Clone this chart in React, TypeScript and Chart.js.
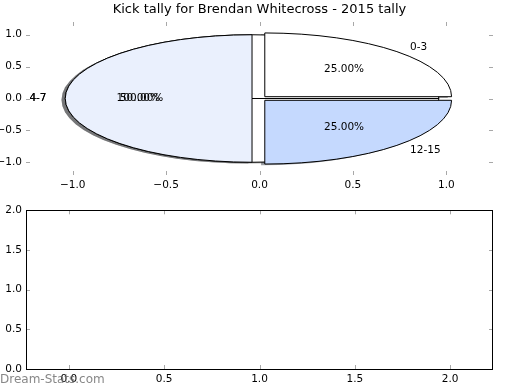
import React, { useEffect, useRef } from "react";
import { Chart, registerables } from "chart.js";

Chart.register(...registerables);

const TITLE = "Kick tally for Brendan Whitecross - 2015 tally";

// underlying single-slice pie (drawn first)
const BASE_LABELS = ["4-7"];
const BASE_VALUES = [1];
const BASE_COLORS = ["#ffffff"];

// main pie
const SLICE_LABELS = ["0-3", "4-7", "12-15"];
const SLICE_VALUES = [1, 2, 1];
const SLICE_COLORS = ["#ffffff", "#eaf0fd", "#c5d9fe"];
const EXPLODE = 0.04;

const TOP_X_TICKS = [-1, -0.5, 0, 0.5, 1];
const TOP_Y_TICKS = [-1, -0.5, 0, 0.5, 1];
const BOTTOM_X_TICKS = [0, 0.5, 1, 1.5, 2];
const BOTTOM_Y_TICKS = [0, 0.5, 1, 1.5, 2];

const WATERMARK = "Dream-Stats.com";

const FONT = "DejaVu Sans";
const TICK_SIZE = 10.5;

const fmt = (v: number) => (v < 0 ? "\u2212" : "") + Math.abs(v).toFixed(1);

function hexToRgb(h: string) {
  const n = parseInt(h.slice(1), 16);
  return [(n >> 16) & 255, (n >> 8) & 255, n & 255];
}

const piePlugin = {
  id: "piePlugin",
  afterDatasetsDraw(chart: any) {
    const { ctx } = chart;
    const xs = chart.scales.x;
    const ys = chart.scales.y;
    const px = (v: number) => xs.getPixelForValue(v);
    const py = (v: number) => ys.getPixelForValue(v);
    const rx = px(1) - px(0);
    const ry = py(0) - py(1);
    const pies = [
      { labels: BASE_LABELS, values: BASE_VALUES, colors: BASE_COLORS },
      { labels: SLICE_LABELS, values: SLICE_VALUES, colors: SLICE_COLORS },
    ];
    const wedges: any[] = [];
    pies.forEach((p) => {
      const total = p.values.reduce((a, b) => a + b, 0);
      let acc = 0;
      p.values.forEach((v, i) => {
        const t1 = (acc / total) * 2 * Math.PI;
        acc += v;
        const t2 = (acc / total) * 2 * Math.PI;
        const mid = (t1 + t2) / 2;
        wedges.push({
          t1,
          t2,
          mid,
          cx: EXPLODE * Math.cos(mid),
          cy: EXPLODE * Math.sin(mid),
          color: p.colors[i],
          label: p.labels[i],
          pct: ((v / total) * 100).toFixed(2) + "%",
        });
      });
    });
    const path = (w: any, dx: number, dy: number) => {
      const cx = px(w.cx + dx);
      const cy = py(w.cy + dy);
      ctx.beginPath();
      ctx.moveTo(cx, cy);
      ctx.ellipse(cx, cy, rx, ry, 0, -w.t1, -w.t2, true);
      ctx.closePath();
    };
    ctx.save();
    // shadows
    wedges.forEach((w) => {
      const [r, g, b] = hexToRgb(w.color);
      path(w, -0.02, -0.02);
      ctx.fillStyle = `rgba(${Math.round(r * 0.3)},${Math.round(g * 0.3)},${Math.round(b * 0.3)},0.5)`;
      ctx.fill();
    });
    // wedges
    wedges.forEach((w) => {
      path(w, 0, 0);
      ctx.fillStyle = w.color;
      ctx.fill();
      ctx.strokeStyle = "#000";
      ctx.lineWidth = 1;
      ctx.stroke();
    });
    // texts
    ctx.fillStyle = "#000";
    ctx.font = `${TICK_SIZE}px "${FONT}"`;
    ctx.textBaseline = "middle";
    wedges.forEach((w) => {
      const lx = w.cx + 1.1 * Math.cos(w.mid);
      const ly = w.cy + 1.1 * Math.sin(w.mid);
      ctx.textAlign = lx > 0 ? "left" : "right";
      ctx.fillText(w.label, px(lx), py(ly));
      const tx = w.cx + 0.6 * Math.cos(w.mid);
      const ty = w.cy + 0.6 * Math.sin(w.mid);
      ctx.textAlign = "center";
      ctx.fillText(w.pct, px(tx), py(ty));
    });
    ctx.restore();
  },
};

function makeTickPlugin(xt: number[], yt: number[], frame: boolean) {
  return {
    id: "tickPlugin",
    afterDraw(chart: any) {
      const { ctx, chartArea: a } = chart;
      const xs = chart.scales.x;
      const ys = chart.scales.y;
      ctx.save();
      ctx.strokeStyle = "#a8a8a8";
      ctx.lineWidth = 1;
      const L = 4;
      xt.forEach((v) => {
        const X = Math.round(xs.getPixelForValue(v)) + 0.5;
        ctx.beginPath();
        ctx.moveTo(X, a.top);
        ctx.lineTo(X, a.top + L);
        ctx.moveTo(X, a.bottom);
        ctx.lineTo(X, a.bottom - L);
        ctx.stroke();
      });
      yt.forEach((v) => {
        const Y = Math.round(ys.getPixelForValue(v)) + 0.5;
        ctx.beginPath();
        ctx.moveTo(a.left, Y);
        ctx.lineTo(a.left + L, Y);
        ctx.moveTo(a.right, Y);
        ctx.lineTo(a.right - L, Y);
        ctx.stroke();
      });
      if (frame) {
        ctx.strokeStyle = "#000";
        ctx.strokeRect(
          Math.round(a.left) + 0.5,
          Math.round(a.top) + 0.5,
          Math.round(a.right - a.left) - 1,
          Math.round(a.bottom - a.top)
        );
      }
      ctx.restore();
    },
  };
}

const titlePlugin = {
  id: "titlePlugin",
  afterDraw(chart: any) {
    const { ctx, chartArea: a } = chart;
    ctx.save();
    ctx.fillStyle = "#000";
    ctx.font = `13px "${FONT}"`;
    ctx.textAlign = "center";
    ctx.textBaseline = "middle";
    ctx.fillText(TITLE, (a.left + a.right) / 2, 10);
    ctx.restore();
  },
};

const watermarkPlugin = {
  id: "watermarkPlugin",
  afterDraw(chart: any) {
    const { ctx } = chart;
    ctx.save();
    ctx.fillStyle = "rgba(105,105,105,0.8)";
    ctx.font = `12px "${FONT}"`;
    ctx.textAlign = "left";
    ctx.textBaseline = "middle";
    ctx.fillText(WATERMARK, 0, chart.height - 10);
    ctx.restore();
  },
};

function scaleOpts(min: number, max: number, ticks: number[], fitSize: number, isX: boolean) {
  return {
    type: "linear",
    min,
    max,
    grid: { display: false, drawTicks: false },
    border: { display: false },
    ticks: {
      padding: 4,
      color: "#000",
      font: { family: FONT, size: TICK_SIZE },
      callback: (v: any) => fmt(Number(v)),
      autoSkip: false,
      maxRotation: 0,
    },
    afterBuildTicks: (s: any) => {
      s.ticks = ticks.map((v) => ({ value: v }));
    },
    afterFit: (s: any) => {
      if (isX) s.height = fitSize;
      else s.width = fitSize;
    },
  };
}

export default function App() {
  const topRef = useRef<HTMLCanvasElement>(null);
  const botRef = useRef<HTMLCanvasElement>(null);

  useEffect(() => {
    const top = new Chart(topRef.current as HTMLCanvasElement, {
      type: "scatter",
      data: { datasets: [{ data: [] }] },
      options: {
        responsive: false,
        animation: false,
        devicePixelRatio: 1,
        layout: { padding: { top: 22, right: 27, bottom: 0, left: 0 } },
        plugins: { legend: { display: false }, tooltip: { enabled: false } },
        scales: {
          x: scaleOpts(-1.25, 1.25, TOP_X_TICKS, 25, true),
          y: scaleOpts(-1.2, 1.2, TOP_Y_TICKS, 26, false),
        } as any,
      },
      plugins: [piePlugin, makeTickPlugin(TOP_X_TICKS, TOP_Y_TICKS, false), titlePlugin],
    } as any);
    const bot = new Chart(botRef.current as HTMLCanvasElement, {
      type: "scatter",
      data: { datasets: [{ data: [] }] },
      options: {
        responsive: false,
        animation: false,
        devicePixelRatio: 1,
        layout: { padding: { top: 10, right: 27, bottom: 0, left: 0 } },
        plugins: { legend: { display: false }, tooltip: { enabled: false } },
        scales: {
          x: scaleOpts(-0.225, 2.225, BOTTOM_X_TICKS, 21, true),
          y: scaleOpts(0, 2, BOTTOM_Y_TICKS, 26, false),
        } as any,
      },
      plugins: [makeTickPlugin(BOTTOM_X_TICKS, BOTTOM_Y_TICKS, true), watermarkPlugin],
    } as any);
    return () => {
      top.destroy();
      bot.destroy();
    };
  }, []);

  return (
    <div style={{ position: "fixed", left: 0, top: 0, width: 520, height: 390, background: "#fff" }}>
      <canvas ref={topRef} width={520} height={200} style={{ position: "absolute", left: 0, top: 0 }} />
      <canvas ref={botRef} width={520} height={190} style={{ position: "absolute", left: 0, top: 200 }} />
    </div>
  );
}
